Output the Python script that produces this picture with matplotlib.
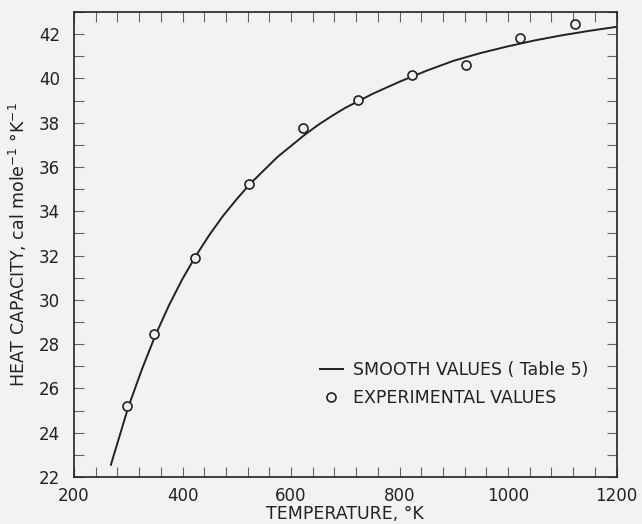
import matplotlib.pyplot as plt
from matplotlib.ticker import MultipleLocator

# smooth values (Table 5)
smooth_t = [268, 300, 325, 350, 375, 400, 425, 450, 475, 500, 525, 550, 575, 600,
            625, 650, 675, 700, 750, 800, 850, 900, 950, 1000, 1050, 1100, 1150, 1200]
smooth_cp = [22.55, 25.15, 26.85, 28.4, 29.75, 30.95, 32.0, 32.95, 33.8, 34.55,
             35.25, 35.85, 36.45, 36.95, 37.45, 37.9, 38.3, 38.67, 39.3, 39.85,
             40.35, 40.8, 41.15, 41.45, 41.72, 41.95, 42.15, 42.33]

# experimental points
exp_t = [298, 348, 423, 523, 623, 723, 823, 923, 1023, 1123]
exp_cp = [25.2, 28.45, 31.88, 35.22, 37.77, 39.03, 40.17, 40.59, 41.83, 42.46]

BG = "#f2f2f2"
INK = "#222222"

plt.rcParams["font.family"] = ["DejaVu Sans"]

fig = plt.figure(figsize=(6.42, 5.24), dpi=100, facecolor=BG)
ax = fig.add_axes([74 / 642, 1 - 477 / 524, (616.5 - 74) / 642, (477 - 12) / 524])
ax.set_facecolor(BG)

ax.plot(smooth_t, smooth_cp, color=INK, lw=1.4, label="SMOOTH VALUES ( Table 5)")
ax.plot(exp_t, exp_cp, "o", ms=6.5, mfc=BG, mec=INK, mew=1.2, ls="none",
        label="EXPERIMENTAL VALUES")

ax.set_xlim(200, 1200)
ax.set_ylim(22, 43)
ax.xaxis.set_major_locator(MultipleLocator(200))
ax.xaxis.set_minor_locator(MultipleLocator(40))
ax.yaxis.set_major_locator(MultipleLocator(2))
ax.yaxis.set_minor_locator(MultipleLocator(1))
ax.tick_params(which="both", direction="in", top=True, right=True,
               length=7.5, width=0.8, color="#666666",
               labelsize=12, labelcolor=INK)
ax.tick_params(axis="y", pad=10)
ax.tick_params(axis="x", pad=7)
for s in ax.spines.values():
    s.set_color(INK)
    s.set_linewidth(1.2)

ax.set_xlabel("TEMPERATURE, °K", fontsize=12.5, color=INK, labelpad=0)
ax.set_ylabel(r"HEAT CAPACITY, cal mole$^{-1}$ °K$^{-1}$", fontsize=12.5,
              color=INK, labelpad=7)

leg = ax.legend(loc="upper left", bbox_to_anchor=(0.425, 0.283), frameon=False,
                fontsize=12.5, handlelength=1.3, handletextpad=0.6,
                labelspacing=0.6, labelcolor=INK)

fig.savefig("out.png", dpi=100, facecolor=BG)
